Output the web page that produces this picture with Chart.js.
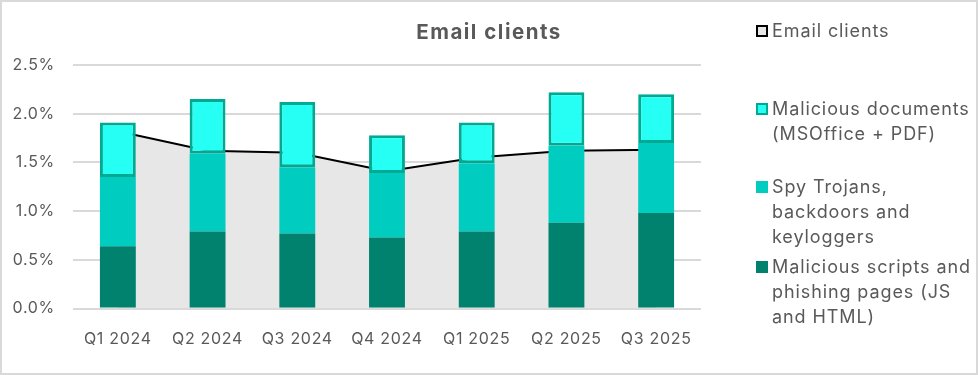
<!DOCTYPE html>
<html><head><meta charset="utf-8">
<script src="https://cdn.jsdelivr.net/npm/chart.js@4/dist/chart.umd.min.js"></script>
<style>
html,body{margin:0;padding:0;background:#fff;}
#wrap{position:relative;width:978px;height:375px;overflow:hidden;font-family:Inter,sans-serif;color:#595959;}
#chartBox{position:absolute;left:0;top:0;width:978px;height:375px;}
#frame{position:absolute;left:0;top:0;width:978px;height:375px;box-sizing:border-box;border:2px solid #d9d9d9;pointer-events:none;}
#title{position:absolute;left:0;top:20px;width:978px;text-align:center;font-weight:700;font-size:20.5px;line-height:24px;letter-spacing:1.5px;}
.lg{position:absolute;left:756px;font-size:18px;line-height:25px;white-space:nowrap;letter-spacing:0.9px;}
.lg .box{position:absolute;left:0;top:7px;width:12px;height:12px;box-sizing:border-box;}
.lg .txt{margin-left:16px;}
</style></head>
<body>
<div id="wrap">
  <div id="chartBox"><canvas id="c"></canvas></div>
  <div id="title"></div>
  <div id="legend"></div>
  <div id="frame"></div>
</div>
<script>
// ---- data ----
const chartTitle = 'Email clients';
const categories = ['Q1 2024','Q2 2024','Q3 2024','Q4 2024','Q1 2025','Q2 2025','Q3 2025'];
const scriptsPhishing = [0.64, 0.79, 0.77, 0.73, 0.79, 0.88, 0.98];
const spyTrojans      = [0.71, 0.80, 0.68, 0.66, 0.70, 0.79, 0.72];
const maliciousDocs   = [0.56, 0.56, 0.67, 0.39, 0.42, 0.55, 0.50];
const emailClients    = [1.82, 1.62, 1.60, 1.41, 1.55, 1.62, 1.63];
const yTickValues = [0, 0.5, 1.0, 1.5, 2.0, 2.5];
const seriesNames = ['Malicious scripts and phishing pages (JS and HTML)','Spy Trojans, backdoors and keyloggers','Malicious documents (MSOffice + PDF)','Email clients'];
const legendLines = [
  ['Email clients'],
  ['Malicious documents','(MSOffice + PDF)'],
  ['Spy Trojans,','backdoors and','keyloggers'],
  ['Malicious scripts and','phishing pages (JS','and HTML)']
];

// ---- styles ----
const C_DARK='#00826f', C_MID='#00ccc0', C_CYAN='#26fff4', C_BORDER='#00a992', C_AREA='#e7e7e7';
const FONT='Inter';
const TEXT='#595959';

document.getElementById('title').textContent = chartTitle;

const legendStyles = [
  {top:17.5, bg:C_AREA, border:'2px solid #000'},
  {top:95.5, bg:C_CYAN, border:'2px solid '+C_BORDER},
  {top:174, bg:C_MID, border:'none'},
  {top:253.5, bg:C_DARK, border:'none'}
];
const lg = document.getElementById('legend');
legendLines.forEach((lines,i)=>{
  const d=document.createElement('div'); d.className='lg'; d.style.top=legendStyles[i].top+'px';
  const b=document.createElement('div'); b.className='box'; b.style.background=legendStyles[i].bg; b.style.border=legendStyles[i].border;
  const t=document.createElement('div'); t.className='txt'; t.innerHTML=lines.join('<br>');
  d.appendChild(b); d.appendChild(t); lg.appendChild(d);
});

const spacingPlugin = {
  id:'spacing',
  beforeUpdate(chart){ chart.ctx.letterSpacing='0.7px'; },
  beforeDraw(chart){ chart.ctx.letterSpacing='0.7px'; }
};

new Chart(document.getElementById('c'), {
  plugins:[spacingPlugin],
  data:{
    labels: categories,
    datasets:[
      {type:'bar', label:seriesNames[0], data:scriptsPhishing, backgroundColor:C_DARK, stack:'m', order:1, borderWidth:0},
      {type:'bar', label:seriesNames[1], data:spyTrojans, backgroundColor:C_MID, stack:'m', order:1, borderWidth:0},
      {type:'bar', label:seriesNames[2], data:maliciousDocs, backgroundColor:C_CYAN, borderColor:C_BORDER, borderWidth:3, borderSkipped:false, stack:'m', order:1},
      {type:'line', label:seriesNames[3], data:emailClients, borderColor:'#000', borderWidth:2, backgroundColor:C_AREA, fill:'origin', pointRadius:0, tension:0, stack:'e', order:2}
    ]
  },
  options:{
    responsive:true, maintainAspectRatio:false, animation:false,
    layout:{padding:{top:65, left:0, right:277, bottom:0}},
    datasets:{bar:{categoryPercentage:0.8, barPercentage:0.5}},
    plugins:{legend:{display:false}, title:{display:false}, tooltip:{enabled:false}},
    scales:{
      x:{stacked:true, offset:true, grid:{display:false}, border:{display:false},
         ticks:{color:TEXT, font:{family:FONT, size:16}, padding:13, maxRotation:0, autoSkip:false},
         afterFit:s=>{s.height=66.5;}},
      y:{stacked:true, min:0, max:2.5,
         afterBuildTicks:s=>{s.ticks=yTickValues.map(v=>({value:v}));},
         ticks:{color:TEXT, font:{family:FONT, size:16}, padding:18, callback:v=>Number(v).toFixed(1)+'%'},
         grid:{color:'#d9d9d9', lineWidth:2, drawTicks:false}, border:{display:false},
         afterFit:s=>{s.width=73;}}
    }
  }
});
</script>
</body></html>
